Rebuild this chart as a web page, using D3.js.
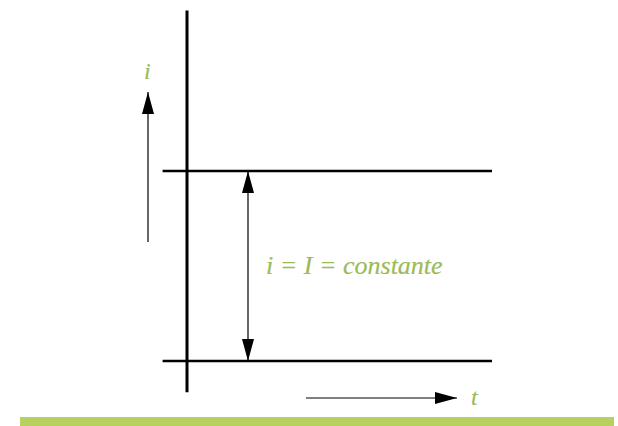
<!DOCTYPE html>
<html lang="en">
<head>
  <meta charset="UTF-8">
  <title>i = I = constante</title>
  <script src="https://d3js.org/d3.v7.min.js"></script>
  <style>
    body { margin: 0; background: #fff; }
    .lbl { font-family: "Liberation Serif", serif; font-style: italic; fill: #9bbb59; stroke: #9bbb59; stroke-width: 0.2; }
  </style>
</head>
<body>
  <script>
    // niveaux de courant (0 et I) et étendue du temps
    const levels = [0, 1];
    const tSpan = [-0.8, 10];
    const axisSpan = [-0.165, 1.845];
    const arrowAt = 2;
    const labelText = "i = I = constante";

    const W = 618, H = 426;
    const svg = d3.select("body").append("svg")
      .attr("width", W).attr("height", H);

    const x = d3.scaleLinear().domain([0, 10]).range([187, 492]);
    const y = d3.scaleLinear().domain([0, 1]).range([361, 171]);

    const defs = svg.append("defs");
    defs.append("marker")
      .attr("id", "head")
      .attr("viewBox", "0 0 22 12")
      .attr("refX", 22).attr("refY", 6)
      .attr("markerWidth", 22).attr("markerHeight", 12)
      .attr("markerUnits", "userSpaceOnUse")
      .attr("orient", "auto-start-reverse")
      .append("path").attr("d", "M0,0 L22,6 L0,12 Z").attr("fill", "#000");

    // axe vertical
    svg.append("line")
      .attr("x1", x(0)).attr("x2", x(0))
      .attr("y1", y(axisSpan[0])).attr("y2", y(axisSpan[1]))
      .attr("stroke", "#000").attr("stroke-width", 3);

    // lignes horizontales
    svg.selectAll(".lvl").data(levels).enter().append("line")
      .attr("class", "lvl")
      .attr("x1", x(tSpan[0])).attr("x2", x(tSpan[1]))
      .attr("y1", d => y(d)).attr("y2", d => y(d))
      .attr("stroke", "#000").attr("stroke-width", 2.5);

    // double flèche
    svg.append("line")
      .attr("x1", x(arrowAt)).attr("x2", x(arrowAt))
      .attr("y1", y(levels[0])).attr("y2", y(levels[1]))
      .attr("stroke", "#000").attr("stroke-width", 1.2)
      .attr("marker-start", "url(#head)")
      .attr("marker-end", "url(#head)");

    svg.append("text").attr("class", "lbl")
      .attr("x", 266).attr("y", 274)
      .attr("font-size", 26)
      .text(labelText);

    // flèche i
    svg.append("line")
      .attr("x1", 148).attr("x2", 148)
      .attr("y1", 242).attr("y2", 92)
      .attr("stroke", "#000").attr("stroke-width", 1.2)
      .attr("marker-end", "url(#head)");
    svg.append("text").attr("class", "lbl")
      .attr("x", 144).attr("y", 79).attr("font-size", 24).text("i");

    // flèche t
    svg.append("line")
      .attr("x1", 306).attr("x2", 457)
      .attr("y1", 398).attr("y2", 398)
      .attr("stroke", "#000").attr("stroke-width", 1.2)
      .attr("marker-end", "url(#head)");
    svg.append("text").attr("class", "lbl")
      .attr("x", 471).attr("y", 405).attr("font-size", 24).text("t");

    // bande verte
    svg.append("rect")
      .attr("x", 20).attr("y", 417)
      .attr("width", 594).attr("height", 9)
      .attr("fill", "#b6d162");
  </script>
</body>
</html>
